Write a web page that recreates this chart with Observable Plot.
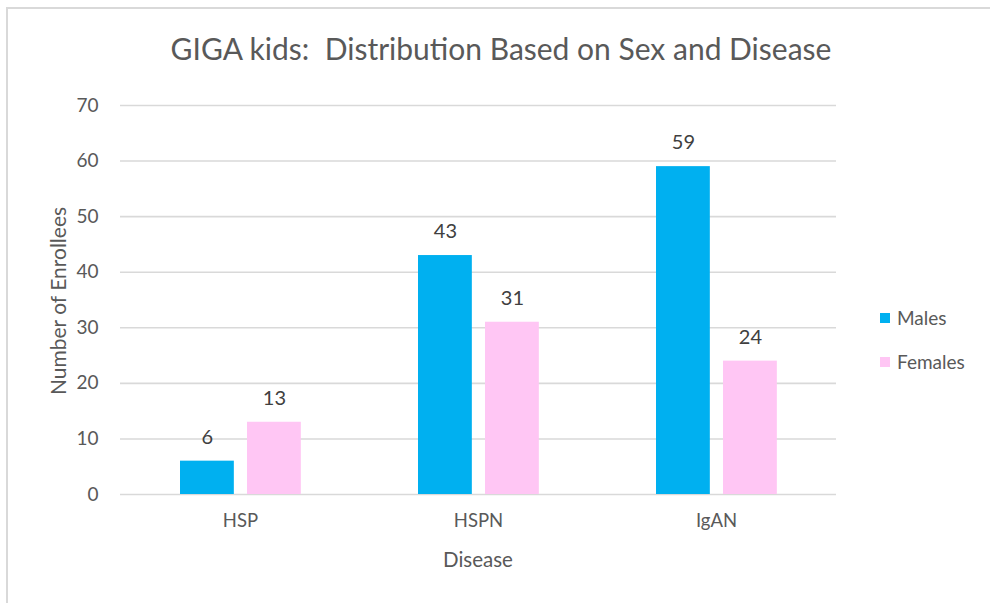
<!DOCTYPE html>
<html>
<head>
<meta charset="utf-8">
<script src="https://cdn.jsdelivr.net/npm/d3@7"></script>
<script src="https://cdn.jsdelivr.net/npm/@observablehq/plot@0.6"></script>
<style>
  html, body { margin: 0; padding: 0; background: #fff; }
  #wrap { position: relative; width: 990px; height: 603px; overflow: hidden; font-family: Lato, "Noto Sans", sans-serif; }
  #frame { position: absolute; left: 6px; top: 7px; width: 1000px; height: 700px; border-top: 2px solid #d9d9d9; border-left: 2px solid #d9d9d9; box-sizing: border-box; }
  #chart { position: absolute; left: 0; top: 0; }
  #title { position: absolute; left: 0; width: 1002px; top: 30px; text-align: center; font-size: 30px; color: #595959; white-space: nowrap; }
  .leg { position: absolute; left: 880px; font-size: 19px; color: #595959; display: flex; align-items: center; }
  .sw { width: 10px; height: 10px; margin-right: 7px; }
  #ylab { position: absolute; left: 57px; top: 301px; transform: translate(-50%, -50%) rotate(-90deg); font-size: 21px; color: #595959; white-space: nowrap; }
  #xlab { position: absolute; left: 478px; top: 559px; transform: translate(-50%, -50%); font-size: 20.5px; color: #595959; white-space: nowrap; }
</style>
</head>
<body>
<div id="wrap">
  <div id="frame"></div>
  <div id="chart"></div>
  <div id="title">GIGA kids:&nbsp; Distribution Based on Sex and Disease</div>
  <div id="ylab">Number of Enrollees</div>
  <div id="xlab">Disease</div>
  <div class="leg" style="top:306px"><div class="sw" style="background:#00b0f0"></div>Males</div>
  <div class="leg" style="top:350px"><div class="sw" style="background:#ffc6f4"></div>Females</div>
</div>
<script>
const diseases = ["HSP", "HSPN", "IgAN"];
const males = [6, 43, 59];
const females = [13, 31, 24];
const yTicks = [0, 10, 20, 30, 40, 50, 60, 70];

const maleData = diseases.map((d, i) => ({disease: d, value: males[i]}));
const femaleData = diseases.map((d, i) => ({disease: d, value: females[i]}));

const W = 990, H = 603;
const mL = 120, mR = 154, mT = 105, mB = 109;
const band = (W - mL - mR) / diseases.length;
const barW = 54.5, outer = 59, femOff = 126;
const maleInL = outer, maleInR = band - outer - barW;
const femInL = femOff, femInR = band - femOff - barW;
const maleDx = outer + barW / 2 - band / 2;
const femDx = femInL + barW / 2 - band / 2;

const chart = Plot.plot({
  width: W, height: H,
  marginLeft: mL, marginRight: mR, marginTop: mT, marginBottom: mB,
  style: {fontFamily: "Lato, 'Noto Sans', sans-serif", fontSize: "18px", background: "transparent", overflow: "visible", color: "#595959"},
  x: {domain: diseases, padding: 0},
  y: {domain: [0, 70]},
  marks: [
    Plot.gridY(yTicks, {stroke: "#d9d9d9", strokeOpacity: 1, strokeWidth: 1.6}),
    Plot.axisY(yTicks, {tickSize: 0, tickPadding: 22, fontSize: 19, fill: "#595959", label: null}),
    Plot.axisX({tickSize: 0, tickPadding: 19, fontSize: 18.5, fill: "#595959", label: null}),
    Plot.barY(maleData, {x: "disease", y: "value", fill: "#00b0f0", insetLeft: maleInL, insetRight: maleInR}),
    Plot.barY(femaleData, {x: "disease", y: "value", fill: "#ffc6f4", insetLeft: femInL, insetRight: femInR}),
    Plot.text(maleData, {x: "disease", y: "value", text: "value", dx: maleDx, dy: -24, fontSize: 20, fill: "#404040"}),
    Plot.text(femaleData, {x: "disease", y: "value", text: "value", dx: femDx, dy: -24, fontSize: 20, fill: "#404040"})
  ]
});
document.getElementById("chart").appendChild(chart);
</script>
</body>
</html>
